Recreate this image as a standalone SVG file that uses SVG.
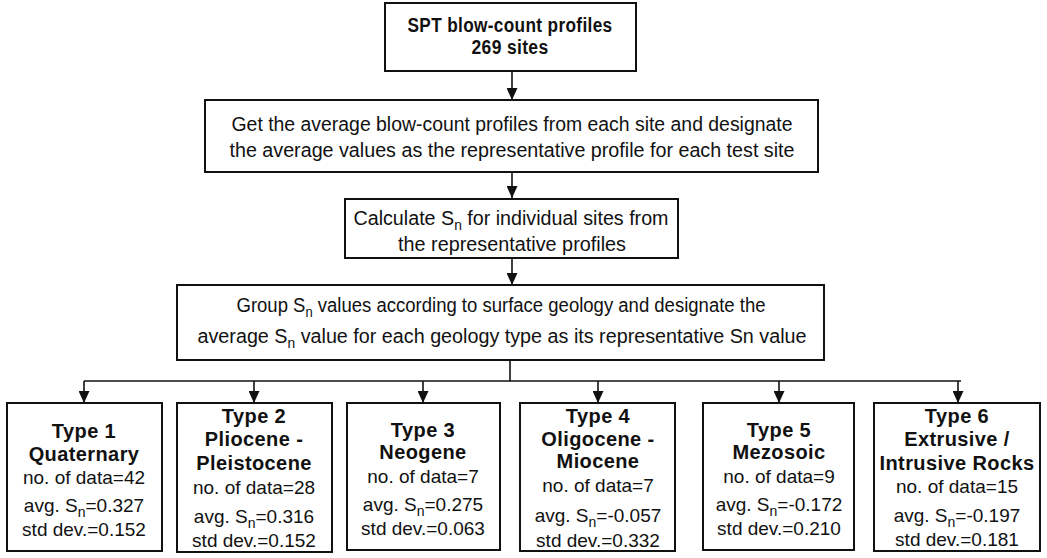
<svg xmlns="http://www.w3.org/2000/svg" width="1047" height="558" viewBox="0 0 1047 558">
<style>
  .box { fill: #ffffff; stroke: #111111; stroke-width: 2; }
  .t { font-family: "Liberation Sans", Arial, sans-serif; font-size: 19px; fill: #111111; text-anchor: middle; }
  .tt { font-size: 20px; }
  .b { font-weight: bold; font-size: 20px; letter-spacing: 0.4px; }
  .sub { font-size: 14px; }
  .conn { fill: none; stroke: #111111; stroke-width: 1.6; }
</style>
<defs>
  <marker id="arr" viewBox="0 0 12 11" refX="12" refY="5.5" markerWidth="13" markerHeight="11" markerUnits="userSpaceOnUse" orient="auto">
    <path d="M0,0 L12,5.5 L0,11 z" fill="#111111"/>
  </marker>
</defs>
<rect width="1047" height="558" fill="#ffffff"/>

<g id="connectors">
  <line class="conn" x1="512" y1="71" x2="512" y2="100" marker-end="url(#arr)"/>
  <line class="conn" x1="512" y1="172" x2="512" y2="198" marker-end="url(#arr)"/>
  <line class="conn" x1="512" y1="258" x2="512" y2="285" marker-end="url(#arr)"/>
  <line class="conn" x1="510" y1="360" x2="510" y2="381"/>
  <line class="conn" x1="84" y1="381" x2="961" y2="381"/>
  <line class="conn" x1="84" y1="381" x2="84" y2="403" marker-end="url(#arr)"/>
  <line class="conn" x1="254" y1="381" x2="254" y2="403" marker-end="url(#arr)"/>
  <line class="conn" x1="423" y1="381" x2="423" y2="403" marker-end="url(#arr)"/>
  <line class="conn" x1="598" y1="381" x2="598" y2="403" marker-end="url(#arr)"/>
  <line class="conn" x1="779" y1="381" x2="779" y2="403" marker-end="url(#arr)"/>
  <line class="conn" x1="958" y1="381" x2="958" y2="403" marker-end="url(#arr)"/>
</g>

<g id="spt">
  <rect class="box" x="385" y="3" width="251" height="68"/>
  <text class="t b" x="510" y="32" textLength="205" lengthAdjust="spacingAndGlyphs">SPT blow-count profiles</text>
  <text class="t b" x="510" y="54" textLength="77" lengthAdjust="spacingAndGlyphs">269 sites</text>
</g>

<g id="average">
  <rect class="box" x="205" y="100" width="613" height="72"/>
  <text class="t tt" x="512" y="131" textLength="561" lengthAdjust="spacingAndGlyphs">Get the average blow-count profiles from each site and designate</text>
  <text class="t tt" x="512" y="157" textLength="565" lengthAdjust="spacingAndGlyphs">the average values as the representative profile for each test site</text>
</g>

<g id="calculate">
  <rect class="box" x="345" y="199" width="333" height="59"/>
  <text class="t tt" x="511" y="225" textLength="315" lengthAdjust="spacingAndGlyphs">Calculate S<tspan class="sub" dy="5">n</tspan><tspan dy="-5"> for individual sites from</tspan></text>
  <text class="t tt" x="512" y="251" textLength="228" lengthAdjust="spacingAndGlyphs">the representative profiles</text>
</g>

<g id="group">
  <rect class="box" x="177" y="285" width="647" height="75"/>
  <text class="t tt" x="501" y="312" textLength="529" lengthAdjust="spacingAndGlyphs">Group S<tspan class="sub" dy="5">n</tspan><tspan dy="-5"> values according to surface geology and designate the</tspan></text>
  <text class="t tt" x="502" y="343" textLength="609" lengthAdjust="spacingAndGlyphs">average S<tspan class="sub" dy="5">n</tspan><tspan dy="-5"> value for each geology type as its representative Sn value</tspan></text>
</g>

<g id="type1">
  <rect class="box" x="7" y="403" width="155" height="148"/>
  <text class="t b" x="84" y="438">Type 1</text>
  <text class="t b" x="84" y="461">Quaternary</text>
  <text class="t" x="84" y="484">no. of data=42</text>
  <text class="t" x="84" y="512">avg. S<tspan class="sub" dy="5">n</tspan><tspan dy="-5">=0.327</tspan></text>
  <text class="t" x="84" y="536">std dev.=0.152</text>
</g>

<g id="type2">
  <rect class="box" x="177" y="403" width="155" height="149"/>
  <text class="t b" x="254" y="423">Type 2</text>
  <text class="t b" x="254" y="446">Pliocene -</text>
  <text class="t b" x="254" y="470">Pleistocene</text>
  <text class="t" x="254" y="494">no. of data=28</text>
  <text class="t" x="254" y="523">avg. S<tspan class="sub" dy="5">n</tspan><tspan dy="-5">=0.316</tspan></text>
  <text class="t" x="254" y="547">std dev.=0.152</text>
</g>

<g id="type3">
  <rect class="box" x="347" y="403" width="153" height="147"/>
  <text class="t b" x="423" y="437">Type 3</text>
  <text class="t b" x="423" y="459">Neogene</text>
  <text class="t" x="423" y="483">no. of data=7</text>
  <text class="t" x="423" y="511">avg. S<tspan class="sub" dy="5">n</tspan><tspan dy="-5">=0.275</tspan></text>
  <text class="t" x="423" y="535">std dev.=0.063</text>
</g>

<g id="type4">
  <rect class="box" x="520" y="403" width="155" height="148"/>
  <text class="t b" x="598" y="423">Type 4</text>
  <text class="t b" x="598" y="446">Oligocene -</text>
  <text class="t b" x="598" y="468">Miocene</text>
  <text class="t" x="598" y="492">no. of data=7</text>
  <text class="t" x="598" y="522">avg. S<tspan class="sub" dy="5">n</tspan><tspan dy="-5">=-0.057</tspan></text>
  <text class="t" x="598" y="547">std dev.=0.332</text>
</g>

<g id="type5">
  <rect class="box" x="703" y="403" width="151" height="147"/>
  <text class="t b" x="779" y="437">Type 5</text>
  <text class="t b" x="779" y="459">Mezosoic</text>
  <text class="t" x="779" y="483">no. of data=9</text>
  <text class="t" x="779" y="511">avg. S<tspan class="sub" dy="5">n</tspan><tspan dy="-5">=-0.172</tspan></text>
  <text class="t" x="779" y="535">std dev.=0.210</text>
</g>

<g id="type6">
  <rect class="box" x="874" y="403" width="166" height="148"/>
  <text class="t b" x="957" y="423">Type 6</text>
  <text class="t b" x="957" y="446">Extrusive /</text>
  <text class="t b" x="957" y="470">Intrusive Rocks</text>
  <text class="t" x="957" y="493">no. of data=15</text>
  <text class="t" x="957" y="522">avg. S<tspan class="sub" dy="5">n</tspan><tspan dy="-5">=-0.197</tspan></text>
  <text class="t" x="957" y="546">std dev.=0.181</text>
</g>
</svg>
